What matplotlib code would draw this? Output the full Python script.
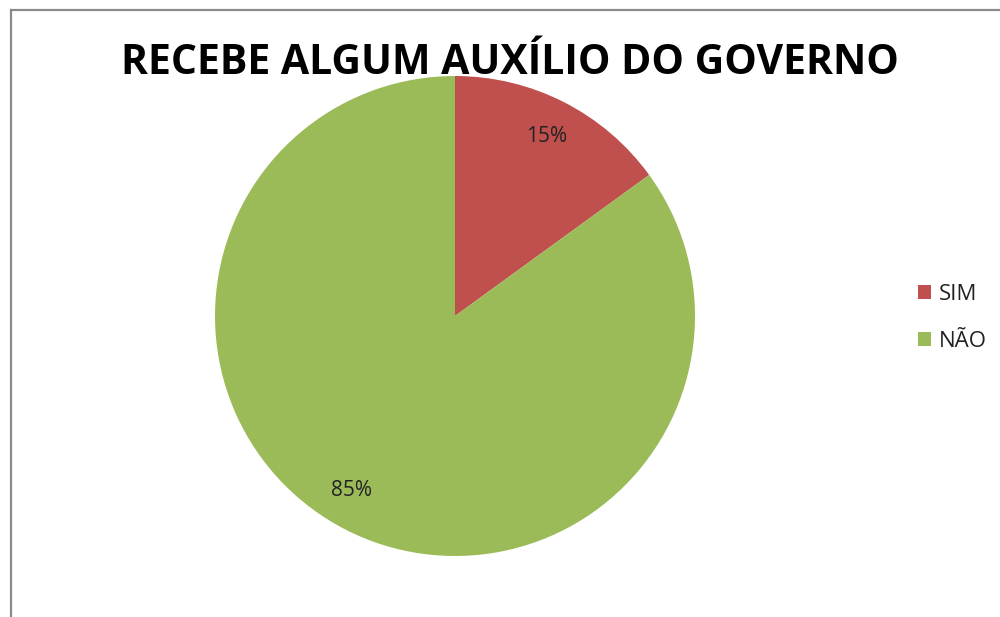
import matplotlib.pyplot as plt
from matplotlib.lines import Line2D
from matplotlib.patches import Patch

labels = ['SIM', 'NÃO']
values = [15, 85]
colors = ['#C0504D', '#9BBB59']

plt.rcParams['font.family'] = ['Open Sans', 'DejaVu Sans']

fig = plt.figure(figsize=(10, 6.17), dpi=100)

# chart frame (left and top edges visible)
fig.add_artist(Line2D([0.0105, 0.0105], [0, 1 - 9.5/617], color='#8a8a8a', linewidth=1.6, transform=fig.transFigure))
fig.add_artist(Line2D([0.0105, 1.0], [1 - 9.5/617, 1 - 9.5/617], color='#8a8a8a', linewidth=1.6, transform=fig.transFigure))

ax = fig.add_axes([0.215, 1 - 556/617, 0.48, 480/617])
wedges, texts, autotexts = ax.pie(values, colors=colors, startangle=90, counterclock=False,
                                  autopct='%1.0f%%', pctdistance=0.84, radius=1,
                                  textprops={'fontsize': 15, 'color': '#222222'})
# nudge the big slice label a bit left, like the original
x, y = autotexts[1].get_position()
autotexts[1].set_position((x - 0.05, y + 0.02))
ax.set_xlim(-1, 1)
ax.set_ylim(-1, 1)
ax.set_aspect('auto')
ax.axis('off')

fig.text(0.51, 1 - 63/617, 'RECEBE ALGUM AUXÍLIO DO GOVERNO', ha='center', va='center',
         fontsize=29.5, fontweight='bold', color='black')

handles = [Patch(facecolor=c, edgecolor='none') for c in colors]
fig.legend(handles, labels, loc='center left', bbox_to_anchor=(0.898, 1 - 318/617),
           frameon=False, fontsize=16, handlelength=0.6, handleheight=0.6,
           handletextpad=0.35, labelspacing=1.15, labelcolor='#222222')

fig.savefig('out.png', dpi=100)
